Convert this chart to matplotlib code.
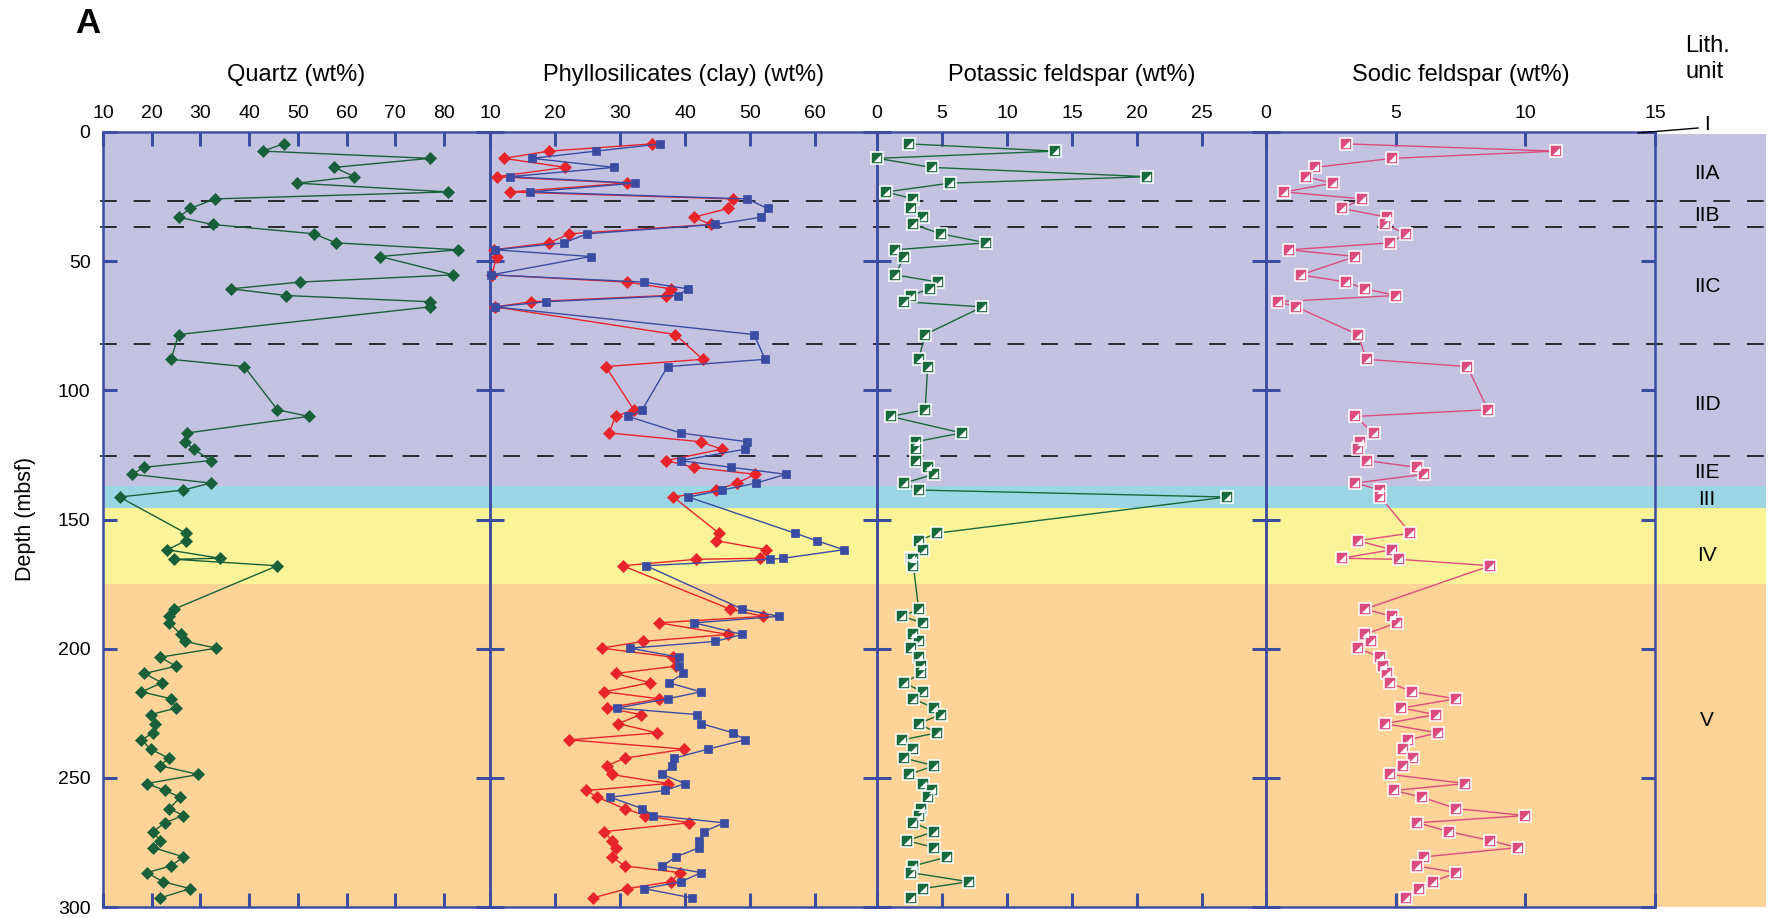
import matplotlib
matplotlib.use("Agg")
import matplotlib.pyplot as plt
from matplotlib.lines import Line2D

plt.rcParams['font.family'] = ['Liberation Sans', 'DejaVu Sans']

# ---------------- data ----------------
depth = [4.6, 7.4, 10.2, 13.7, 17.3, 19.8, 23.2, 25.9, 29.6, 33.0,
         35.8, 39.4, 42.9, 45.6, 48.2, 55.3, 58.1, 60.7, 63.3, 65.7,
         67.7, 78.4, 88.0, 90.8, 107.5, 110.1, 116.5, 119.9, 122.8, 127.2,
         129.8, 132.5, 135.9, 138.6, 141.3,
         155.3, 158.2, 161.7, 165.0, 165.4, 167.9,
         184.7, 187.5, 190.0, 194.5, 197.2, 199.8, 203.3, 206.8, 209.6, 213.2,
         216.7, 219.4, 223.0, 225.5, 229.0, 232.6, 235.3, 238.9, 242.4, 245.3,
         248.7, 252.2, 254.9, 257.5, 261.9, 264.6, 267.4, 270.8, 274.3, 277.0,
         280.6, 284.1, 286.7, 290.2, 292.9, 296.5]

quartz = [47.1, 42.8, 77.1, 57.5, 61.6, 49.9, 80.9, 33.0, 27.9, 25.5,
          32.5, 53.3, 57.8, 82.8, 66.9, 81.9, 50.4, 36.3, 47.6, 77.1,
          77.1, 25.5, 24.0, 39.0, 45.8, 52.2, 27.3, 26.8, 28.7, 32.1,
          18.4, 16.0, 32.1, 26.5, 13.4,
          27.0, 27.0, 23.2, 34.0, 24.6, 45.8,
          24.6, 23.6, 23.6, 26.0, 26.8, 33.3, 21.7, 25.0, 18.5, 22.1,
          17.9, 24.0, 25.0, 19.8, 20.7, 20.3, 17.9, 19.8, 23.5, 21.7,
          29.6, 19.0, 22.7, 25.9, 23.6, 26.5, 22.7, 20.3, 21.7, 20.3,
          26.5, 24.0, 19.0, 22.3, 27.9, 21.7]

clay_red = [34.9, 19.1, 12.1, 21.6, 11.0, 31.1, 13.1, 47.3, 46.6, 41.3,
            44.0, 22.2, 19.1, 10.6, 11.0, 10.3, 31.1, 37.8, 37.1, 16.3,
            10.8, 38.5, 42.7, 27.8, 32.1, 29.3, 28.3, 42.4, 45.6, 37.1,
            41.3, 50.8, 48.0, 44.8, 38.2,
            45.2, 44.8, 52.5, 51.5, 41.7, 30.4,
            46.9, 52.0, 36.0, 46.6, 33.5, 27.2, 38.1, 38.6, 29.3, 34.6,
            27.6, 36.0, 28.0, 33.2, 29.7, 35.7, 22.2, 39.9, 30.7, 28.0,
            28.7, 37.4, 24.8, 26.5, 30.7, 33.9, 40.6, 27.6, 28.7, 29.3,
            28.7, 30.7, 39.2, 37.8, 31.1, 25.8]

clay_blue = [36.2, 26.3, 16.5, 29.1, 13.0, 32.3, 16.2, 49.5, 52.7, 51.7,
             44.6, 24.9, 21.4, 10.8, 25.5, 10.2, 33.7, 40.4, 38.9, 18.6,
             10.8, 50.6, 52.3, 37.3, 33.4, 31.2, 39.3, 49.5, 49.2, 39.3,
             47.1, 55.5, 50.9, 45.7, 40.5,
             56.9, 60.2, 64.4, 55.1, 53.1, 34.0,
             48.8, 54.5, 41.4, 48.8, 44.6, 31.6, 39.0, 39.0, 39.7, 37.5,
             42.4, 37.3, 29.5, 41.8, 42.5, 47.4, 49.2, 43.5, 38.3, 38.0,
             36.5, 40.0, 36.9, 28.5, 33.4, 35.1, 46.0, 42.9, 42.2, 42.2,
             38.6, 36.5, 42.5, 39.4, 33.7, 41.1]

kfeld = [2.46, 13.7, 0.03, 4.2, 20.8, 5.6, 0.7, 2.8, 2.6, 3.5,
         2.8, 4.9, 8.4, 1.4, 2.1, 1.4, 4.7, 4.05, 2.6, 2.1,
         8.1, 3.7, 3.2, 3.9, 3.7, 1.05, 6.5, 3.0, 3.0, 3.0,
         3.9, 4.4, 2.1, 3.2, 26.9,
         4.6, 3.2, 3.5, 2.6, 2.8, 2.8,
         3.2, 1.95, 3.5, 2.8, 3.2, 2.6, 3.2, 3.36, 3.36, 2.1,
         3.5, 2.8, 4.4, 4.9, 3.2, 4.6, 1.95, 2.8, 2.1, 4.4,
         2.46, 3.5, 4.2, 3.9, 3.36, 3.2, 2.8, 4.4, 2.3, 4.4,
         5.4, 2.8, 2.6, 7.05, 3.5, 2.6]

nafeld = [3.10, 11.2, 4.87, 1.88, 1.53, 2.57, 0.71, 3.70, 2.93, 4.68,
          4.59, 5.39, 4.78, 0.90, 3.44, 1.34, 3.10, 3.81, 5.03, 0.46,
          1.16, 3.54, 3.88, 7.76, 8.56, 3.44, 4.15, 3.63, 3.54, 3.88,
          5.82, 6.08, 3.44, 4.41, 4.41,
          5.57, 3.54, 4.86, 2.92, 5.13, 8.65,
          3.81, 4.86, 5.04, 3.81, 4.06, 3.54, 4.41, 4.50, 4.68, 4.78,
          5.64, 7.33, 5.22, 6.54, 4.59, 6.62, 5.48, 5.30, 5.66, 5.30,
          4.78, 7.69, 4.95, 6.00, 7.34, 9.98, 5.84, 7.06, 8.65, 9.71,
          6.09, 5.84, 7.34, 6.44, 5.91, 5.39]

# lithologic units (background bands)
band_top = [0.8, 137.2, 145.6, 175.1]
band_bot = [137.2, 145.6, 175.1, 300.0]
band_col = ['#C3C3E1', '#9CD6E4', '#FAF398', '#FDD397']
subunit_bounds = [26.9, 36.7, 81.9, 125.4]
unit_names = ['IIA', 'IIB', 'IIC', 'IID', 'IIE', 'III', 'IV', 'V']
unit_label_depth = [15.9, 32.3, 60.0, 105.5, 132.0, 142.4, 163.8, 227.7]

titles = ['Quartz (wt%)', 'Phyllosilicates (clay) (wt%)',
          'Potassic feldspar (wt%)', 'Sodic feldspar (wt%)']
xticks = [[10, 20, 30, 40, 50, 60, 70, 80],
          [10, 20, 30, 40, 50, 60],
          [0, 5, 10, 15, 20, 25],
          [0, 5, 10, 15]]
xlims = [(10, 89.45), (10, 69.5), (0, 29.92), (0, 15)]
yticks = [0, 50, 100, 150, 200, 250, 300]

# ---------------- layout ----------------
W, H = 1776, 918
fig = plt.figure(figsize=(W / 100, H / 100), dpi=100)
TOP, BOT = 132, 907
edges = [103, 490, 877, 1266, 1655]


def rect(x0, x1):
    return [x0 / W, 1 - BOT / H, (x1 - x0) / W, (BOT - TOP) / H]


AXC = '#3B4CA3'
QC = '#17603A'
RC = '#E8242B'
BC = '#3A4CA2'
KC = '#17683A'
SC = '#DC4B7D'

bg = fig.add_axes(rect(103, 1766))
bg.set_xlim(0, 1)
bg.set_ylim(300, 0)
bg.axis('off')
for y0, y1, c in zip(band_top, band_bot, band_col):
    bg.axhspan(y0, y1, color=c, lw=0)
bg.hlines(subunit_bounds, -0.002, 1.0, colors='black',
          linestyles=(0, (11, 11)), lw=1.1, clip_on=False)

axes = []
for i in range(4):
    ax = fig.add_axes(rect(edges[i], edges[i + 1]))
    ax.set_facecolor('none')
    ax.set_xlim(*xlims[i])
    ax.set_ylim(300, 0)
    for s in ax.spines.values():
        s.set_color(AXC)
        s.set_linewidth(1.8)
    ax.set_xticks(xticks[i])
    ax.set_yticks(yticks)
    ax.tick_params(axis='x', which='both', top=True, bottom=True,
                   labeltop=True, labelbottom=False, direction='in',
                   length=10, width=2.2, color=AXC, labelsize=14, pad=7)
    ax.tick_params(axis='y', left=True, right=True, labelleft=(i == 0),
                   labelright=False, direction='in', length=10, width=2.2,
                   color=AXC, labelsize=14, pad=9)
    axes.append(ax)
    fig.text((edges[i] + edges[i + 1]) / 2 / W, 1 - 75 / H, titles[i],
             ha='center', va='center', fontsize=17)

# quartz
axes[0].plot(quartz, depth, color=QC, lw=1.0, marker='D', ms=5.8,
             mfc=QC, mec=QC, mew=0.5, clip_on=False, zorder=3)
# clay
axes[1].plot(clay_red, depth, color=RC, lw=1.0, marker='D', ms=5.8,
             mfc=RC, mec=RC, mew=0.5, clip_on=False, zorder=3)
axes[1].plot(clay_blue, depth, color=BC, lw=1.0, marker='s', ms=6.4,
             mfc=BC, mec=BC, mew=0.5, clip_on=False, zorder=4)

tri = [(-1, -1), (1, -1), (1, 1), (-1, -1)]
for ax, vals, c in ((axes[2], kfeld, KC), (axes[3], nafeld, SC)):
    ax.plot(vals, depth, color=c, lw=1.0, marker='s', ms=8.0, mfc=c,
            mec='white', mew=1.1, clip_on=False, zorder=3)
    ax.plot(vals, depth, ls='none', marker=tri, ms=5.2, mfc='white',
            mec='none', clip_on=False, zorder=4)

# labels
fig.text(25 / W, 1 - 519 / H, 'Depth (mbsf)', rotation=90, ha='center',
         va='center', fontsize=15.5)
fig.text(75 / W, 1 - 33 / H, 'A', fontsize=25, fontweight='bold',
         ha='left', va='baseline')
fig.text(1685 / W, 1 - 59 / H, 'Lith.\nunit', ha='left', va='center',
         fontsize=17, linespacing=1.25)
fig.text(1707 / W, 1 - 124 / H, 'I', ha='center', va='center', fontsize=15)
fig.add_artist(Line2D([1638 / W, 1698 / W], [1 - 133 / H, 1 - 128 / H],
                      transform=fig.transFigure, color='black', lw=1.0))

px_per_m = (BOT - TOP) / 300.0
for name, d in zip(unit_names, unit_label_depth):
    fig.text(1707 / W, 1 - (TOP + d * px_per_m) / H, name, ha='center',
             va='center', fontsize=15)

fig.savefig('out.png', dpi=100)
